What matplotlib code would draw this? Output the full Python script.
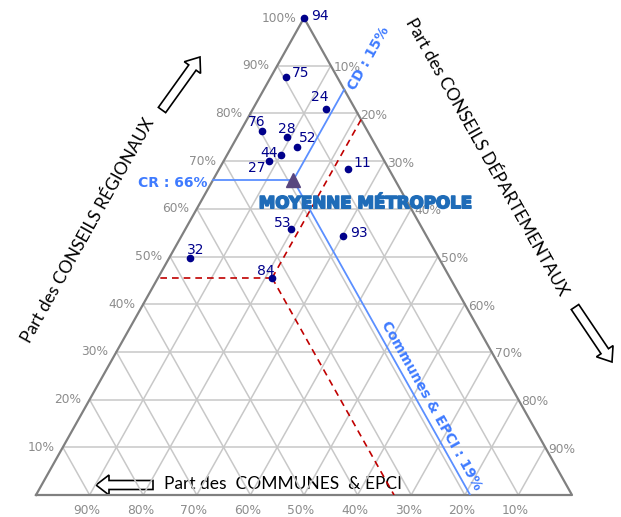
import numpy as np
import matplotlib.pyplot as plt
import matplotlib.patheffects as pe
from matplotlib.patches import FancyArrow

# Départements : part des conseils régionaux (CR) et départementaux (CD)
dept_labels = ['94', '75', '24', '76', '28', '52', '44', '27', '11', '53', '93', '32', '84']
cr_share = [1.00, 0.876, 0.809, 0.763, 0.750, 0.730, 0.713, 0.700, 0.683, 0.558, 0.543, 0.497, 0.455]
cd_share = [0.00, 0.028, 0.136, 0.040, 0.093, 0.122, 0.101, 0.085, 0.240, 0.197, 0.302, 0.039, 0.213]

# moyenne métropole
mean_cr = 0.66
mean_cd = 0.15
mean_com = 0.19

# département mis en évidence (lignes rouges)
focus = '84'

ticks = [10, 20, 30, 40, 50, 60, 70, 80, 90]

# label offsets (pixels) for each point label
label_off = [(16, 2), (15, 4), (-6, 12), (-5, 9), (0, 8), (11, 9), (-12, 2),
             (-12, -7), (15, 6), (-8, 6), (16, 3), (6, 8), (-6, 7)]

W, H = 621, 517
GRID = '#c8c8c8'
EDGE = '#808080'
TICKC = '#8c8c8c'
NAVY = '#00008b'
BLUE_LINE = '#5b8fff'
BLUE_TXT = '#3f7bff'
RED = '#c00000'
ANG = np.degrees(np.arctan2(477, 268))


def to_xy(cr, cd):
    return cd + cr / 2.0, cr


fig = plt.figure(figsize=(W / 100, H / 100), dpi=100)
ax = fig.add_axes([36 / W, 22 / H, 536 / W, 477 / H])
ax.set_xlim(0, 1)
ax.set_ylim(0, 1)
ax.axis('off')

# grid
for t in ticks:
    v = t / 100
    # CR constant
    p0, p1 = to_xy(v, 0), to_xy(v, 1 - v)
    ax.plot([p0[0], p1[0]], [p0[1], p1[1]], color=GRID, lw=1.1, zorder=1)
    # CD constant
    p0, p1 = to_xy(0, v), to_xy(1 - v, v)
    ax.plot([p0[0], p1[0]], [p0[1], p1[1]], color=GRID, lw=1.1, zorder=1)
    # communes constant
    p0, p1 = to_xy(0, 1 - v), to_xy(1 - v, 0)
    ax.plot([p0[0], p1[0]], [p0[1], p1[1]], color=GRID, lw=1.1, zorder=1)

# border
corners = [to_xy(0, 0), to_xy(0, 1), to_xy(1, 0), to_xy(0, 0)]
ax.plot([c[0] for c in corners], [c[1] for c in corners], color=EDGE, lw=1.6,
        zorder=2, clip_on=False)

# tick labels
for t in ticks + [100]:
    ax.annotate(f'{t}%', to_xy(t / 100, 0), xytext=(-8, 0), textcoords='offset pixels',
                ha='right', va='center', fontsize=8.8, color=TICKC, annotation_clip=False)
for t in ticks:
    ax.annotate(f'{t}%', to_xy(1 - t / 100, t / 100), xytext=(3, -2),
                textcoords='offset pixels', ha='left', va='center', fontsize=8.8,
                color=TICKC, annotation_clip=False)
    ax.annotate(f'{t}%', to_xy(0, 1 - t / 100), xytext=(-3, -15),
                textcoords='offset pixels', ha='center', va='center', fontsize=8.8,
                color=TICKC, annotation_clip=False)

# red dashed lines for the focus department
i = dept_labels.index(focus)
fcr, fcd = cr_share[i], cd_share[i]
fcom = 1 - fcr - fcd
pf = to_xy(fcr, fcd)
for q in [to_xy(fcr, 0), to_xy(1 - fcd, fcd), to_xy(0, 1 - fcom)]:
    ax.plot([pf[0], q[0]], [pf[1], q[1]], color=RED, lw=1.2, ls=(0, (4, 3)), zorder=3)

# blue lines for the average
pm = to_xy(mean_cr, mean_cd)
for q in [to_xy(mean_cr, 0), to_xy(1 - mean_cd, mean_cd), to_xy(0, 1 - mean_com)]:
    ax.plot([pm[0], q[0]], [pm[1], q[1]], color=BLUE_LINE, lw=1.3, zorder=3)

# points
xs = [to_xy(r, d)[0] for r, d in zip(cr_share, cd_share)]
ys = [to_xy(r, d)[1] for r, d in zip(cr_share, cd_share)]
ax.plot(xs, ys, 'o', color=NAVY, ms=4.5, zorder=5, clip_on=False)
for lab, x, y, off in zip(dept_labels, xs, ys, label_off):
    ax.annotate(lab, (x, y), xytext=off, textcoords='offset pixels', ha='center',
                va='center', fontsize=10, color=NAVY, zorder=6, annotation_clip=False)

ax.plot([pm[0]], [pm[1]], '^', color='#58467f', ms=10, zorder=6)

# annotations of the average
ax.annotate(f'CR : {int(mean_cr * 100)}%', to_xy(mean_cr, 0), xytext=(-40, -3),
            textcoords='offset pixels', ha='center', va='center', fontsize=10,
            fontweight='bold', color=BLUE_TXT, annotation_clip=False)
top = to_xy(1 - mean_cd, mean_cd)
ax.annotate(f'CD : {int(mean_cd * 100)}%', top, xytext=(25, 31), textcoords='offset pixels',
            ha='center', va='center', fontsize=10, fontweight='bold', color=BLUE_TXT,
            rotation=ANG, annotation_clip=False)
mid = to_xy(0.18, 1 - mean_com - 0.18)
ax.annotate(f'Communes & EPCI : {int(mean_com * 100)}%', mid, xytext=(10, 4),
            textcoords='offset pixels', ha='center', va='center', fontsize=10,
            fontweight='bold', color=BLUE_TXT, rotation=-ANG, annotation_clip=False)
ax.annotate('MOYENNE MÉTROPOLE', pm, xytext=(72, -23), textcoords='offset pixels',
            ha='center', va='center', fontsize=12, fontweight='heavy', color='#1f6cb8',
            path_effects=[pe.withStroke(linewidth=1.2, foreground='#1f6cb8')],
            zorder=7, annotation_clip=False)

# axis titles and arrows in pixel coordinates
ov = fig.add_axes([0, 0, 1, 1], zorder=-1)
ov.set_xlim(0, W)
ov.set_ylim(H, 0)
ov.axis('off')

tfont = dict(family=['Lato', 'DejaVu Sans'], fontsize=12.5, color='black')
ov.text(88, 231, 'Part des CONSEILS RÉGIONAUX', rotation=ANG, ha='center', va='center', **tfont)
ov.text(487, 157, 'Part des CONSEILS DÉPARTEMENTAUX', rotation=-ANG, ha='center',
        va='center', **tfont)
ov.text(283, 484, 'Part des  COMMUNES  & EPCI', ha='center', va='center', **tfont)

arrows = [((162, 110), (200, 57)), ((575, 307), (612, 362)), ((153, 485), (96, 485))]
for (x0, y0), (x1, y1) in arrows:
    ov.add_patch(FancyArrow(x0, y0, x1 - x0, y1 - y0, width=9, head_width=20,
                            head_length=13, length_includes_head=True,
                            facecolor='white', edgecolor='black', lw=1.2))

fig.savefig('out.png', dpi=100)
